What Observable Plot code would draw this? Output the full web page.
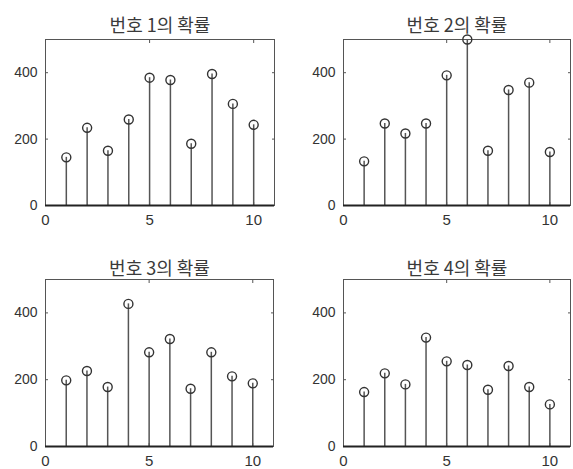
<!DOCTYPE html>
<html>
<head>
<meta charset="utf-8">
<script src="https://cdn.jsdelivr.net/npm/d3@7"></script>
<script src="https://cdn.jsdelivr.net/npm/@observablehq/plot@0.6"></script>
<style>
  html, body { margin: 0; padding: 0; background: #fff; }
  #chart { position: relative; width: 573px; height: 469px; overflow: hidden; }
  #chart > div { position: absolute; }
  svg { display: block; }
</style>
</head>
<body>
<div id="chart"></div>
<script>
// Numbers 1..10 and how often each came up, one series per draw position
const numbers = [1, 2, 3, 4, 5, 6, 7, 8, 9, 10];
const series1 = [145, 234, 165, 259, 385, 378, 186, 396, 306, 243];
const series2 = [133, 247, 217, 247, 392, 500, 165, 348, 370, 161];
const series3 = [198, 226, 178, 427, 282, 322, 173, 282, 210, 189];
const series4 = [163, 219, 186, 326, 255, 244, 170, 241, 178, 126];
const titles = ["번호 1의 확률", "번호 2의 확률", "번호 3의 확률", "번호 4의 확률"];
const xTicks = [0, 5, 10];
const yTicks = [0, 200, 400];

const panels = [
  {values: series1, title: titles[0], left: 0,   top: 0,   width: 286, height: 234, mt: 39, mb: 29, ml: 45, mr: 12, tdy: -20},
  {values: series2, title: titles[1], left: 286, top: 0,   width: 287, height: 234, mt: 39, mb: 29, ml: 57, mr: 3,  tdy: -20},
  {values: series3, title: titles[2], left: 0,   top: 234, width: 286, height: 235, mt: 45, mb: 23, ml: 45, mr: 13, tdy: -17},
  {values: series4, title: titles[3], left: 286, top: 234, width: 287, height: 235, mt: 45, mb: 23, ml: 57, mr: 3,  tdy: -17}
];

const root = document.getElementById("chart");

for (const p of panels) {
  const data = numbers.map((n, i) => ({n, v: p.values[i]}));
  const svg = Plot.plot({
    width: p.width,
    height: p.height,
    marginTop: p.mt,
    marginBottom: p.mb,
    marginLeft: p.ml,
    marginRight: p.mr,
    style: {fontFamily: "'Liberation Sans', Arial, sans-serif", fontSize: "14px", color: "#333", background: "#fff"},
    x: {domain: [0, 11], label: null},
    y: {domain: [0, 500], label: null},
    marks: [
      Plot.frame({stroke: "#555", strokeWidth: 1}),
      // inward tick marks on all four sides
      Plot.axisX({ticks: xTicks, anchor: "bottom", tickSize: 3, dy: -3, text: null, label: null, stroke: "#555"}),
      Plot.axisX({ticks: xTicks, anchor: "top", tickSize: 3, dy: 3, text: null, label: null, stroke: "#555"}),
      Plot.axisY({ticks: yTicks, anchor: "left", tickSize: 3, dx: 3, text: null, label: null, stroke: "#555"}),
      Plot.axisY({ticks: yTicks, anchor: "right", tickSize: 3, dx: -3, text: null, label: null, stroke: "#555"}),
      // tick labels
      Plot.axisX({ticks: xTicks, anchor: "bottom", tickSize: 0, tickPadding: 9, label: null, fill: "#333", fontSize: 15}),
      Plot.axisY({ticks: yTicks, anchor: "left", tickSize: 0, tickPadding: 8, label: null, fill: "#333", fontSize: 14}),
      // stems
      Plot.ruleX(data, {x: "n", y1: 0, y2: "v", stroke: "#555", strokeWidth: 1.5}),
      // baseline
      Plot.ruleY([0], {stroke: "#222", strokeWidth: 2}),
      // stem heads
      Plot.dot(data, {x: "n", y: "v", r: 4.5, stroke: "#333", strokeWidth: 1.4, fill: "none"}),
      // panel title
      Plot.text([p.title], {
        frameAnchor: "top", dy: p.tdy, text: d => d,
        fontFamily: "'Noto Sans CJK KR', sans-serif", fontSize: 18, fill: "#3a3a3a"
      })
    ]
  });
  const wrap = document.createElement("div");
  wrap.style.left = p.left + "px";
  wrap.style.top = p.top + "px";
  wrap.appendChild(svg);
  root.appendChild(wrap);
}
</script>
</body>
</html>
